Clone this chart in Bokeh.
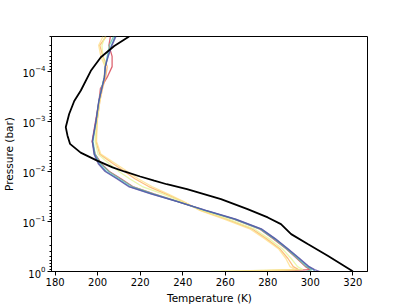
from bokeh.plotting import figure
from bokeh.models import Range1d, FixedTicker, LogTicker
from bokeh.embed import file_html
from bokeh.resources import INLINE

# Shared pressure levels (bar) for the coloured profiles
P_LEV = [2e-5, 3e-5, 5e-5, 8e-5, 1.3e-4, 2.2e-4, 4e-4, 1e-3, 2.5e-3, 4.5e-3, 7e-3, 0.01,
         0.014, 0.02, 0.028, 0.04, 0.06, 0.09, 0.14, 0.22, 0.35, 0.55, 0.8, 0.92, 1.0]

T_RED = [206.0, 205.3, 206.8, 206.8, 204.5, 201.3, 200.6, 199.0, 197.4, 198.8, 201.8, 205.5,
         211.0, 216.5, 226.5, 238.0, 250.0, 264.0, 276.0, 282.5, 288.6, 293.7, 297.7, 300.0, 281.0]
T_ORANGE = [204.0, 201.0, 202.5, 204.5, 203.8, 202.3, 201.0, 199.7, 199.2, 201.0, 207.3, 212.7,
            217.5, 224.0, 232.0, 240.0, 248.5, 260.5, 272.5, 279.3, 285.6, 289.5, 292.0, 294.5, 268.0]
T_YELLOW = [202.5, 200.5, 201.5, 203.5, 203.0, 202.0, 201.0, 199.8, 199.5, 201.5, 208.5, 214.0,
            219.0, 225.5, 233.0, 240.5, 248.0, 259.5, 271.5, 278.5, 285.0, 288.5, 290.5, 293.0, 258.0]
T_LGREEN = [203.5, 202.0, 202.5, 203.5, 203.2, 202.0, 200.8, 199.6, 198.8, 200.2, 205.5, 210.0,
            215.0, 221.0, 230.5, 239.5, 249.0, 261.5, 273.5, 280.5, 286.8, 291.0, 294.0, 296.5, 253.0]
T_GREEN = [207.5, 205.5, 204.5, 203.6, 203.1, 201.8, 200.6, 199.3, 197.8, 198.8, 201.5, 205.2,
           210.5, 216.2, 226.2, 237.8, 250.3, 264.2, 276.2, 282.8, 288.8, 294.0, 298.2, 300.8, 298.0]
T_BLUE = [208.2, 206.5, 204.8, 203.6, 203.2, 201.9, 200.5, 199.2, 197.6, 198.5, 200.7, 204.0,
          209.5, 215.0, 225.4, 237.6, 250.6, 264.6, 276.7, 283.3, 289.3, 294.7, 299.1, 301.6, 302.0]
T_PURPLE = [208.6, 206.8, 205.0, 203.6, 203.2, 202.0, 200.5, 199.2, 197.5, 198.3, 200.3, 203.5,
            209.0, 214.5, 225.0, 237.5, 251.0, 265.0, 277.0, 283.5, 289.5, 295.0, 299.5, 302.0, 304.5]

PROFILES = [
    (T_RED, "#d53e4f"),
    (T_ORANGE, "#fdae61"),
    (T_LGREEN, "#e6f598"),
    (T_YELLOW, "#fee08b"),
    (T_GREEN, "#66c2a5"),
    (T_BLUE, "#3288bd"),
    (T_PURPLE, "#5e4fa2"),
]

# Black reference profile
P_BLACK = [2e-5, 3.1e-5, 5.2e-5, 9.7e-5, 2.4e-4, 3.9e-4, 7.1e-4, 1.3e-3, 1.9e-3, 2.8e-3, 4.2e-3,
           6e-3, 8.3e-3, 0.01, 0.0126, 0.0153, 0.018, 0.0225, 0.0356, 0.0565, 0.083, 0.113,
           0.179, 0.283, 0.485, 0.94, 1.0]
T_BLACK = [214.8, 207.8, 201.5, 196.8, 192.1, 189.0, 186.6, 185.0, 185.8, 187.0, 192.0,
           199.5, 207.0, 212.5, 220.0, 226.6, 232.5, 242.0, 258.0, 270.5, 280.0, 286.2,
           291.0, 298.8, 308.2, 319.2, 320.0]

X_TICKS = [180, 200, 220, 240, 260, 280, 300, 320]

FONT = "DejaVu Sans"

p = figure(width=407, height=305, output_backend="svg", toolbar_location=None,
           y_axis_type="log",
           x_range=Range1d(178.3, 326.9), y_range=Range1d(1.0, 2e-5),
           min_border_left=51, min_border_top=36, min_border_right=40, min_border_bottom=34)
p.frame_width = 316
p.frame_height = 235

for temps, col in PROFILES:
    p.line(temps, P_LEV, line_color=col, line_width=1.3, line_alpha=0.8)

p.line(T_BLACK, P_BLACK, line_color="black", line_width=1.8)

p.background_fill_color = "white"
p.border_fill_color = "white"
p.outline_line_color = "black"
p.outline_line_width = 1
p.xgrid.visible = False
p.ygrid.visible = False

p.xaxis.ticker = FixedTicker(ticks=X_TICKS)
p.xaxis.minor_tick_line_color = None
p.yaxis.ticker = LogTicker(num_minor_ticks=10)

for ax in (p.xaxis, p.yaxis):
    ax.axis_line_color = "black"
    ax.major_tick_line_color = "black"
    ax.major_tick_in = 0
    ax.major_tick_out = 4
    ax.minor_tick_in = 0
    ax.minor_tick_out = 2
    ax.major_label_text_font = FONT
    ax.major_label_text_font_size = "10px"
    ax.major_label_text_color = "black"
    ax.axis_label_text_font = FONT
    ax.axis_label_text_font_size = "10.5px"
    ax.axis_label_text_font_style = "normal"
    ax.axis_label_text_color = "black"
    ax.major_label_standoff = 2

p.yaxis.minor_tick_line_color = "black"
p.xaxis.axis_label = "Temperature (K)"
p.yaxis.axis_label = "Pressure (bar)"
p.xaxis.axis_label_standoff = 3
p.yaxis.axis_label_standoff = 4

open("out.html", "w").write(file_html(p, INLINE))
